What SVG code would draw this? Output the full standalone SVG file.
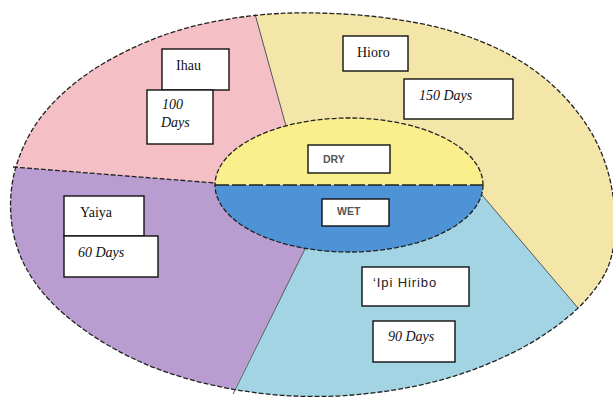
<svg xmlns="http://www.w3.org/2000/svg" width="613" height="397" viewBox="0 0 613 397">
<style>
.box{fill:#fff;stroke:#111;stroke-width:1.4}
.serif{font-family:"Liberation Serif","Times New Roman",serif;font-size:14px;fill:#111}
.it{font-style:italic}
.sans{font-family:"Liberation Sans",Arial,sans-serif;fill:#222}
.small{font-family:"Liberation Sans",Arial,sans-serif;font-size:10.5px;font-weight:bold;fill:#555}
.dash{fill:none;stroke:#222;stroke-width:1.3;stroke-dasharray:5 2}
.solid{fill:none;stroke:#555;stroke-width:1}
</style>
<defs>
<path id="outline" d="M 343.5,14 Q 380,16 415,22.5 Q 450,29 480,41 Q 510,53 532.5,69 Q 555,85 572.5,106 Q 590,127 599.5,148.5 Q 609,170 612.5,192.5 Q 616,215 614.5,236.5 Q 613,258 605.5,272.5 Q 598,287 584,302 Q 570,317 547.5,332.5 Q 525,348 492.5,362 Q 460,376 425,384 Q 390,392 352.5,395 Q 315,398 277.5,395 Q 240,392 203.5,383 Q 167,374 139.5,361.5 Q 112,349 88,332.5 Q 64,316 48,298.5 Q 32,281 23,262 Q 14,243 11.5,221.5 Q 9,200 13,179 Q 17,158 28.5,136.5 Q 40,115 60,96 Q 80,77 105,62.5 Q 130,48 157.5,37.5 Q 185,27 217.5,21 Q 250,15 278.5,13.5 Q 307,12 343.5,14 Z"/>
<clipPath id="clipOuter"><use href="#outline"/></clipPath>
<clipPath id="clipInner"><ellipse cx="349" cy="185" rx="134" ry="67"/></clipPath>
</defs>
<rect width="613" height="397" fill="#fff"/>
<g clip-path="url(#clipOuter)">
<g id="ihau-sector"><polygon points="349,185 286,126 252,0 0,0 0,166 215,183" fill="#f5bfc6"/></g>
<g id="hioro-sector"><polygon points="349,185 286,126 252,0 700,0 700,400 656,400 482,195" fill="#f4e6a9"/></g>
<g id="ipihiribo-sector"><polygon points="349,185 482,195 656,400 229,400 305,249" fill="#a2d4e4"/></g>
<g id="yaiya-sector"><polygon points="349,185 305,249 229,400 0,400 0,166 215,183" fill="#b99cd0"/></g>
</g>
<g id="dividers">
<line class="solid" x1="286" y1="126" x2="255" y2="14"/>
<line class="dash" x1="13" y1="167" x2="215" y2="183"/>
<line class="solid" x1="305" y1="249" x2="233" y2="394" stroke="#444"/>
<line class="solid" x1="482" y1="195" x2="578" y2="308"/>
</g>
<use href="#outline" class="dash"/>
<g id="season-core">
<g clip-path="url(#clipInner)">
<rect x="200" y="110" width="300" height="75" fill="#fbef8d"/>
<rect x="200" y="185" width="300" height="80" fill="#4e93d5"/>
</g>
<ellipse cx="349" cy="185" rx="134" ry="67" class="dash"/>
<line x1="215" y1="185" x2="483" y2="185" stroke="#222" stroke-width="1.3" stroke-dasharray="14 3"/>
</g>
<g id="dry">
<rect class="box" x="308" y="145" width="82" height="28"/>
<text class="small" x="323" y="163">DRY</text>
</g>
<g id="wet">
<rect class="box" x="322" y="199" width="67" height="27"/>
<text class="small" x="337" y="215">WET</text>
</g>
<g id="ihau">
<rect class="box" x="162" y="49" width="67" height="41"/>
<text class="serif" x="176" y="70">Ihau</text>
</g>
<g id="ihau-days">
<rect class="box" x="147" y="90" width="66" height="54"/>
<text class="serif it" x="162" y="109">100</text>
<text class="serif it" x="161" y="127">Days</text>
</g>
<g id="hioro">
<rect class="box" x="343" y="36" width="65" height="35"/>
<text class="serif" x="357" y="57">Hioro</text>
</g>
<g id="hioro-days">
<rect class="box" x="404" y="79" width="109" height="40"/>
<text class="serif it" x="419" y="100">150 Days</text>
</g>
<g id="yaiya">
<rect class="box" x="64" y="196" width="80" height="40"/>
<text class="serif" x="80" y="217">Yaiya</text>
</g>
<g id="yaiya-days">
<rect class="box" x="64" y="236" width="94" height="41"/>
<text class="serif it" x="78" y="257">60 Days</text>
</g>
<g id="ipihiribo">
<rect class="box" x="362" y="267" width="107" height="39"/>
<text class="sans" x="373" y="287" font-size="13" letter-spacing="0.9">‘Ipi  Hiribo</text>
</g>
<g id="ipihiribo-days">
<rect class="box" x="373" y="321" width="82" height="41"/>
<text class="serif it" x="388" y="341">90 Days</text>
</g>
</svg>
